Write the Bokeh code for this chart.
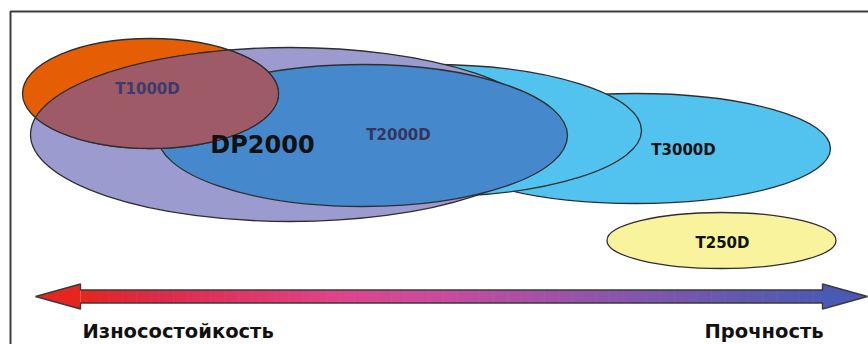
import numpy as np
from bokeh.plotting import figure
from bokeh.models import Range1d, BoxAnnotation
from bokeh.core.properties import value
from bokeh.embed import file_html
from bokeh.resources import INLINE

# Product ranges drawn as ellipses (schematic coordinates, y grows downward)
names = ["T3000D", "T3000D_inner", "DP2000", "T2000D", "T1000D", "T250D"]
cx = [635, 430, 290, 362, 150, 721]
cy = [148, 130, 134, 135, 93, 240]
widths = [390, 422, 520, 410, 256, 229]
heights = [110, 132, 174, 142, 110, 56]
fills = ["#52C3EF", "#52C3EF", "#9B9BD0", "#4589CC", "#E65E03", "#F8F39C"]

# Labels
label_text = ["T1000D", "DP2000", "T2000D", "T3000D", "T250D"]
label_x = [147, 262, 398, 683, 722]
label_y = [88, 144, 134, 149, 242]
label_size = ["15px", "24px", "15px", "15px", "15px"]
label_color = ["#3B3B6C", "#111111", "#34345E", "#111111", "#111111"]

# Axis captions
caption_text = ["Износостойкость", "Прочность"]
caption_x = [82, 704]
caption_y = [331, 331]

OVERLAP_COLOR = "#9E5A67"
OUTLINE = "#2E2E2E"

# Arrow geometry and gradient stops
arrow_left, arrow_right, arrow_y = 35, 867, 296
head_len, head_half, shaft_half = 45, 12.5, 6.5
grad_pos = [0.0, 0.10, 0.35, 0.50, 0.72, 1.0]
grad_col = ["#E4261E", "#DC2A48", "#DF448A", "#C64B9F", "#8A55AB", "#4A5AB2"]

p = figure(width=868, height=344, output_backend="svg", toolbar_location=None,
           x_range=Range1d(0, 868), y_range=Range1d(344, 0), min_border=0)
p.axis.visible = False
p.grid.visible = False
p.outline_line_color = None
p.background_fill_color = "white"
p.border_fill_color = "white"

# Frame (open to the right and bottom)
p.add_layout(BoxAnnotation(left=10, top=11, right=900, bottom=400, fill_alpha=0,
                           line_color="#3C3C3C", line_alpha=1.0, line_width=2))

# Ellipses, back to front
p.ellipse(x=cx, y=cy, width=widths, height=heights, fill_color=fills,
          line_color=OUTLINE, line_width=1.3)


def ellipse_points(i, n=720):
    t = np.linspace(0, 2 * np.pi, n, endpoint=False)
    return cx[i] + widths[i] / 2 * np.cos(t), cy[i] + heights[i] / 2 * np.sin(t)


def inside(x, y, i):
    return ((x - cx[i]) / (widths[i] / 2)) ** 2 + ((y - cy[i]) / (heights[i] / 2)) ** 2 <= 1


# Overlap of T1000D with DP2000
a, b = names.index("T1000D"), names.index("DP2000")
ax_, ay_ = ellipse_points(a)
bx_, by_ = ellipse_points(b)
ma, mb = inside(ax_, ay_, b), inside(bx_, by_, a)
ox = np.concatenate([ax_[ma], bx_[mb]])
oy = np.concatenate([ay_[ma], by_[mb]])
ang = np.arctan2(oy - oy.mean(), ox - ox.mean())
order = np.argsort(ang)
p.patch(ox[order], oy[order], fill_color=OVERLAP_COLOR, line_color=OUTLINE, line_width=1.3)

# Gradient arrow shaft
shaft_l, shaft_r = arrow_left + head_len, arrow_right - head_len
edges = np.linspace(shaft_l, shaft_r, 161)
mids = (edges[:-1] + edges[1:]) / 2
frac = (mids - shaft_l) / (shaft_r - shaft_l)


def hex2rgb(h):
    return np.array([int(h[k:k + 2], 16) for k in (1, 3, 5)], dtype=float)


stops = np.array([hex2rgb(c) for c in grad_col])
rgb = np.stack([np.interp(frac, grad_pos, stops[:, k]) for k in range(3)], axis=1)
seg_colors = ["#%02x%02x%02x" % tuple(int(round(v)) for v in c) for c in rgb]
p.quad(left=edges[:-1], right=edges[1:] + 0.6, top=arrow_y - shaft_half,
       bottom=arrow_y + shaft_half, fill_color=seg_colors, line_color=None)

# Arrow heads
p.patch([arrow_left, shaft_l, shaft_l], [arrow_y, arrow_y - head_half, arrow_y + head_half],
        fill_color=grad_col[0], line_color=None)
p.patch([arrow_right, shaft_r, shaft_r], [arrow_y, arrow_y - head_half, arrow_y + head_half],
        fill_color=grad_col[-1], line_color=None)

# Arrow outline
outline_x = [arrow_left, shaft_l, shaft_l, shaft_r, shaft_r, arrow_right,
             shaft_r, shaft_r, shaft_l, shaft_l]
outline_y = [arrow_y, arrow_y - head_half, arrow_y - shaft_half, arrow_y - shaft_half,
             arrow_y - head_half, arrow_y, arrow_y + head_half, arrow_y + shaft_half,
             arrow_y + shaft_half, arrow_y + head_half]
p.patch(outline_x, outline_y, fill_alpha=0, line_color="#3A3A3A", line_width=1.4)

# Labels
for t, x, y, s, c in zip(label_text, label_x, label_y, label_size, label_color):
    p.text(x=[x], y=[y], text=[t], text_font=value("DejaVu Sans"), text_font_style="bold",
           text_font_size=s, text_color=c, text_align="center", text_baseline="middle")

p.text(x=caption_x, y=caption_y, text=caption_text, text_font=value("DejaVu Sans"),
       text_font_style="bold", text_font_size="19.5px", text_color="#111111",
       text_align="left", text_baseline="middle")

open("out.html", "w").write(file_html(p, INLINE))
